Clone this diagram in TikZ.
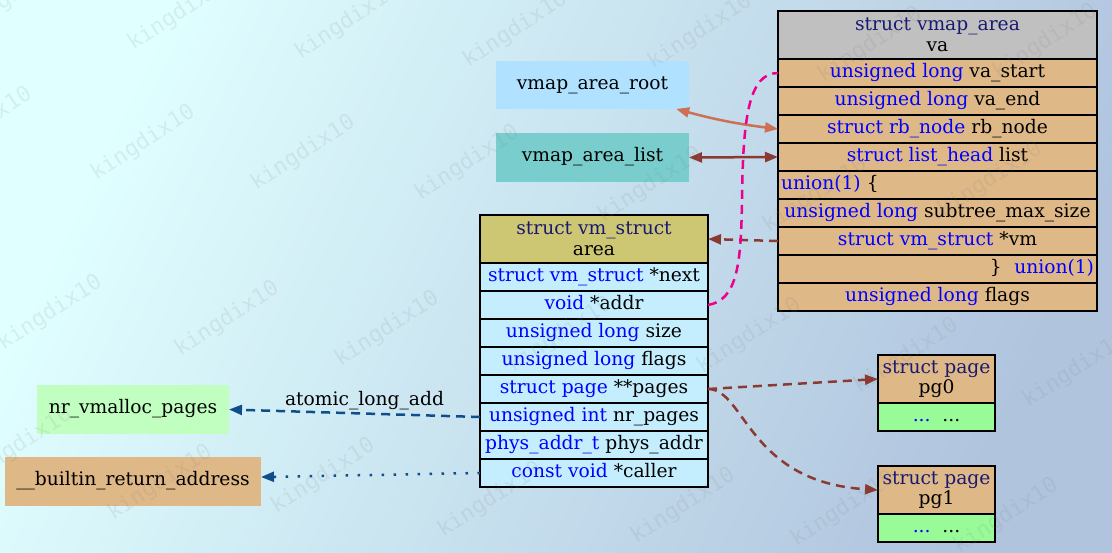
\documentclass[tikz,border=0pt]{standalone}
\usepackage{fontspec}
\setmainfont{DejaVu Serif}
\newfontfamily\wmfont{DejaVu Sans Mono}
\usetikzlibrary{arrows.meta}
\definecolor{lcyan}{RGB}{224,255,255}
\definecolor{lsteel}{RGB}{176,196,222}
\definecolor{burly}{RGB}{222,184,135}
\definecolor{greyhdr}{RGB}{192,192,192}
\definecolor{khakihdr}{RGB}{205,198,115}
\definecolor{vmrow}{RGB}{196,238,254}
\definecolor{pgreen}{RGB}{152,251,152}
\definecolor{rootfill}{RGB}{176,226,255}
\definecolor{listfill}{RGB}{121,205,205}
\definecolor{nrfill}{RGB}{193,255,193}
\definecolor{navy}{RGB}{25,25,112}
\definecolor{salm}{RGB}{205,112,84}
\definecolor{brn}{RGB}{139,58,50}
\definecolor{dblue}{RGB}{16,78,139}
\newcommand\rf{\fontsize{18.67}{20.5}\selectfont}
\newcommand\ty[1]{\textcolor{blue}{#1}}
\newcommand\hd[1]{\textcolor{navy}{#1}}
\tikzset{
  gtip/.tip={Triangle[length=13pt,width=10pt]},
  cell/.style={draw=black, line width=1.2pt, inner xsep=3pt, inner ysep=0pt, outer sep=0pt,
    minimum height=28pt, text height=14pt, text depth=6pt, font=\rf},
  varow/.style={cell, fill=burly, minimum width=319pt},
  vmcell/.style={cell, fill=vmrow, minimum width=228pt},
  pgcell/.style={cell, fill=pgreen, minimum width=117pt},
  hdr/.style={draw=black, line width=1.2pt, inner sep=0pt, outer sep=0pt, minimum height=48pt,
    align=center, font=\rf},
  plain/.style={inner sep=0pt, outer sep=0pt, text height=14pt, text depth=6pt, font=\rf},
  ln/.style={line width=2.5pt},
  dsh/.style={dash pattern=on 9pt off 6pt},
  wm/.style={font=\wmfont\fontsize{22}{22}\selectfont, text=gray, opacity=0.13, rotate=33}
}
\begin{document}
\begin{tikzpicture}[x=1pt,y=-1pt]
\useasboundingbox (0,0) rectangle (1112,552);
\shade[left color=lcyan, right color=lsteel, shading angle=65] (0,0) rectangle (1112,552);

% struct vmap_area
\node[hdr, fill=greyhdr, minimum width=319pt] (vah) at (937.5,35) {\hd{struct vmap\_area}\\va};
\node[varow] (va1) at (937.5,73) {\ty{unsigned long} va\_start};
\node[varow] (va2) at (937.5,101) {\ty{unsigned long} va\_end};
\node[varow] (va3) at (937.5,129) {\ty{struct rb\_node} rb\_node};
\node[varow] (va4) at (937.5,157) {\ty{struct list\_head} list};
\node[varow, text width=313pt, align=left] (va5) at (937.5,185) {\ty{union(1)} \{};
\node[varow] (va6) at (937.5,213) {\ty{unsigned long} subtree\_max\_size};
\node[varow] (va7) at (937.5,241) {\ty{struct vm\_struct} *vm};
\node[varow, text width=313pt, align=right] (va8) at (937.5,269) {\}\ \ \ty{union(1)}};
\node[varow] (va9) at (937.5,297) {\ty{unsigned long} flags};

% struct vm_struct
\node[hdr, fill=khakihdr, minimum width=228pt] (vmh) at (594,239) {\hd{struct vm\_struct}\\area};
\node[vmcell] (vm1) at (594,277) {\ty{struct vm\_struct} *next};
\node[vmcell] (vm2) at (594,305) {\ty{void} *addr};
\node[vmcell] (vm3) at (594,333) {\ty{unsigned long} size};
\node[vmcell] (vm4) at (594,361) {\ty{unsigned long} flags};
\node[vmcell] (vm5) at (594,389) {\ty{struct page} **pages};
\node[vmcell] (vm6) at (594,417) {\ty{unsigned int} nr\_pages};
\node[vmcell] (vm7) at (594,445) {\ty{phys\_addr\_t} phys\_addr};
\node[vmcell] (vm8) at (594,473) {\ty{const void} *caller};

% pages
\node[hdr, fill=burly, minimum width=117pt] (pg0h) at (936.5,379) {\hd{struct page}\\pg0};
\node[pgcell] (pg0r) at (936.5,417) {\ty{...}\ \ ...};
\node[hdr, fill=burly, minimum width=117pt] (pg1h) at (936.5,490) {\hd{struct page}\\pg1};
\node[pgcell] (pg1r) at (936.5,528) {\ty{...}\ \ ...};

% plain boxes
\node[plain, fill=rootfill, minimum width=193pt, minimum height=48pt] (root) at (592.5,85) {vmap\_area\_root};
\node[plain, fill=listfill, minimum width=193pt, minimum height=49pt] (lst) at (592.5,157.5) {vmap\_area\_list};
\node[plain, fill=nrfill, minimum width=192pt, minimum height=49pt] (nrv) at (133,409.5) {nr\_vmalloc\_pages};
\node[plain, fill=burly, minimum width=256pt, minimum height=49pt] (bra) at (133,481.5) {\_\_builtin\_return\_address};

% edges
\draw[ln, salm, {gtip}-{gtip}] (root.-16) to[bend right=4] (va3.west);
\draw[ln, brn, {gtip}-{gtip}] (lst.east) -- (va4.west);
\draw[ln, brn, dsh, -{gtip}] (va7.west) -- (vmh.east);
\draw[ln, magenta, dsh] (vm2.east) .. controls (738,300) and (741,262) .. (742,200)
  .. controls (743,120) and (748,73) .. (va1.west);
\draw[ln, brn, dsh, -{gtip}] (vm5.east) -- (pg0h.west);
\draw[ln, brn, dsh, -{gtip}] (vm5.east) .. controls (745,389) and (748,482) .. (pg1h.west);
\draw[ln, dblue, dsh, -{gtip}] (vm6.west) -- node[plain, text=black, above=2pt, pos=0.46] (lbl) {atomic\_long\_add} (nrv.east);
\draw[ln, dblue, dash pattern=on 2.5pt off 9.5pt, -{gtip}] (vm8.west) -- (bra.2);

% watermark
\foreach \p in {(15,-5),(180,13),(347,22),(515,30),(700,32),(870,45),(1045,42),
  (-20,125),(143,143),(303,153),(467,163),(650,185),(815,195),(990,180),
  (50,313),(227,319),(387,329),(560,335),(749,336),(906,356),(1075,370),
  (20,445),(160,483),(323,476),(490,500),(683,506),(843,509),(1006,516)}
  \node[wm] at \p {kingdix10};
\end{tikzpicture}
\end{document}
